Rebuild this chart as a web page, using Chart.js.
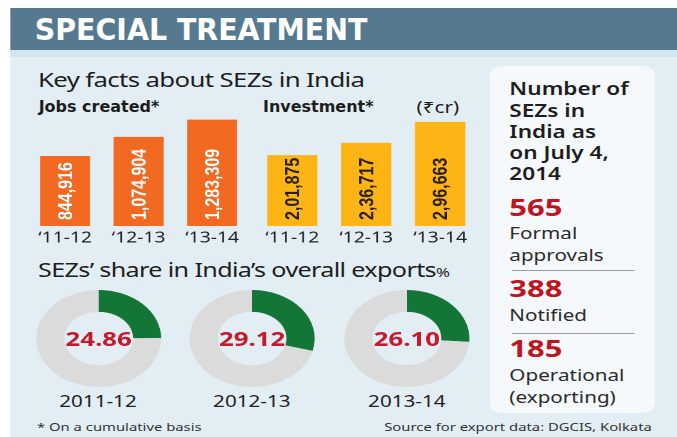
<!DOCTYPE html>
<html lang="en">
<head>
<meta charset="UTF-8" />
<title>Special Treatment - SEZs in India</title>
<script src="https://cdn.jsdelivr.net/npm/chart.js"></script>
<style>
    html, body { margin: 0; padding: 0; background: #fff; }
    body { width: 677px; height: 437px; overflow: hidden; }
    /* the original graphic is stretched sideways, so the whole board is drawn narrow and scaled */
    #wrap {
        position: absolute; left: 0; top: 0;
        width: 525px; height: 437px;
        transform: scaleX(1.2895);
        transform-origin: 0 0;
        font-family: "Noto Sans", "Open Sans", sans-serif;
        color: #1d1d1d;
    }
    .abs { position: absolute; white-space: nowrap; }
    #banner { left: 7.8px; top: 8px; width: 518px; height: 42px; background: #557a8f; }
    #strip { left: 7.8px; top: 50px; width: 518px; height: 7px; background: #d3e5ee; }
    #board { left: 7.8px; top: 57px; width: 518px; height: 380px; background: #e3eef4; }
    #title {
        left: 27px; top: 9px; font-size: 31px; line-height: 40px; font-weight: bold;
        color: #fff; font-family: "Liberation Sans Narrow", "DejaVu Sans Condensed", sans-serif;
        transform: scaleX(0.79); transform-origin: 0 0;
    }
    .head { font-size: 20px; line-height: 24px; letter-spacing: -0.5px; }
    .sub { font-size: 16px; line-height: 20px; }
    .narrow {
        font-family: "Liberation Sans Narrow", "DejaVu Sans Condensed", sans-serif; font-weight: bold;
        transform: scaleX(0.86); transform-origin: 0 0;
    }
    #panel { left: 380px; top: 66px; width: 128px; height: 347px; background: #f5f9fb; border-radius: 9px; }
    #panel .q { position: absolute; left: 15px; font-weight: 600; font-size: 17.5px; line-height: 21px; color: #1d1d1d; }
    #panel .num { position: absolute; left: 15px; font-weight: bold; font-size: 24px; line-height: 26px; color: #c0141f; }
    #panel .txt { position: absolute; left: 15px; font-size: 16px; line-height: 22px; color: #2b2b2b; }
    #panel .rule { position: absolute; left: 17px; width: 95px; height: 0; border-top: 1px solid #9a9a9a; }
    .year { font-size: 16px; line-height: 20px; color: #222; width: 90px; text-align: center; }
    .foot { font-size: 11.5px; line-height: 14px; color: #333; }
    canvas { position: absolute; }
</style>
</head>
<body>
<div id="wrap">
    <div id="banner" class="abs"></div>
    <div id="strip" class="abs"></div>
    <div id="board" class="abs"></div>
    <div id="title" class="abs">SPECIAL TREATMENT</div>

    <div class="abs head" style="left:29.5px; top:68px;">Key facts about SEZs in India</div>
    <div class="abs sub narrow" style="left:29.5px; top:97px;">Jobs created*</div>
    <div class="abs sub narrow" style="left:204px; top:97px;">Investment*</div>
    <div class="abs sub" style="left:323px; top:97px;">(₹cr)</div>

    <canvas id="jobsChart" width="171" height="150" style="left:21.9px; top:100px; width:171px; height:150px;"></canvas>
    <canvas id="investChart" width="172" height="150" style="left:197.7px; top:100px; width:172px; height:150px;"></canvas>

    <div class="abs head" style="left:29.5px; top:258px; font-size:19.5px;">SEZs’ share in India’s overall exports<span style="font-size:13px; letter-spacing:0;">%</span></div>

    <canvas id="share0" width="97" height="97" style="left:27.5px; top:289.5px; width:97px; height:97px;"></canvas>
    <canvas id="share1" width="97" height="97" style="left:146.8px; top:289.5px; width:97px; height:97px;"></canvas>
    <canvas id="share2" width="97" height="97" style="left:267px; top:289.5px; width:97px; height:97px;"></canvas>
    <div id="yearLabels"></div>

    <div id="panel" class="abs">
        <div class="q" style="top:12px;">Number of</div>
        <div class="q" style="top:34px;">SEZs in</div>
        <div class="q" style="top:55px;">India as</div>
        <div class="q" style="top:76px;">on July 4,</div>
        <div class="q" style="top:97px;">2014</div>
        <div class="num" style="top:128px;">565</div>
        <div class="txt" style="top:156px;">Formal</div>
        <div class="txt" style="top:178px;">approvals</div>
        <div class="rule" style="top:204px;"></div>
        <div class="num" style="top:209px;">388</div>
        <div class="txt" style="top:238px;">Notified</div>
        <div class="rule" style="top:267px;"></div>
        <div class="num" style="top:269px;">185</div>
        <div class="txt" style="top:298px;">Operational</div>
        <div class="txt" style="top:320px;">(exporting)</div>
    </div>

    <div class="abs foot" style="left:28.7px; top:420px;">* On a cumulative basis</div>
    <div class="abs foot" style="right:19.5px; top:420px;">Source for export data: DGCIS, Kolkata</div>
</div>

<script>
    const fiscalYears = ["‘11-12", "‘12-13", "‘13-14"];
    const jobsCreated = [844916, 1074904, 1283309];
    const investmentCr = [201875, 236717, 296663];

    const shareYears = ["2011-12", "2012-13", "2013-14"];
    const exportShare = [24.86, 29.12, 26.10];

    const sezCounts = [565, 388, 185];

    // Indian digit grouping, e.g. 2,01,875
    function formatIndian(n) {
        const s = String(n);
        if (s.length <= 3) return s;
        let head = s.slice(0, -3);
        const tail = s.slice(-3);
        head = head.replace(/\B(?=(\d{2})+(?!\d))/g, ",");
        return head + "," + tail;
    }

    function formatWestern(n) {
        return String(n).replace(/\B(?=(\d{3})+(?!\d))/g, ",");
    }

    // vertical value text inside each bar, reading bottom to top
    function makeBarLabels(fmt, color) {
        return {
            id: "barLabels",
            afterDatasetsDraw(chart) {
                const ctx = chart.ctx;
                const values = chart.data.datasets[0].data;
                chart.getDatasetMeta(0).data.forEach((bar, i) => {
                    ctx.save();
                    ctx.translate(bar.x, bar.base - 6);
                    ctx.rotate(-Math.PI / 2);
                    ctx.font = 'bold 16px "Liberation Sans", "DejaVu Sans", sans-serif';
                    ctx.fillStyle = color;
                    ctx.textAlign = "left";
                    ctx.textBaseline = "middle";
                    ctx.fillText(fmt(values[i]), 0, 1);
                    ctx.restore();
                });
            }
        };
    }

    function barChart(id, values, max, color, labelFmt, labelColor) {
        return new Chart(document.getElementById(id), {
            type: "bar",
            data: {
                labels: fiscalYears,
                datasets: [{
                    data: values,
                    backgroundColor: color,
                    borderWidth: 0,
                    categoryPercentage: 1,
                    barPercentage: 0.68
                }]
            },
            options: {
                responsive: false,
                animation: false,
                devicePixelRatio: 2,
                layout: { padding: 0 },
                plugins: { legend: { display: false }, tooltip: { enabled: false } },
                scales: {
                    x: {
                        grid: { display: false, drawTicks: false },
                        border: { display: false },
                        ticks: {
                            color: "#222",
                            padding: 3,
                            font: { family: '"Noto Sans", sans-serif', size: 15 }
                        }
                    },
                    y: { display: false, min: 0, max: max }
                }
            },
            plugins: [makeBarLabels(labelFmt, labelColor)]
        });
    }

    barChart("jobsChart", jobsCreated, 1520000, "#f26a21", formatWestern, "#ffffff");
    barChart("investChart", investmentCr, 359000, "#fdb515", formatIndian, "#2a1f0a");

    // share doughnuts
    const centerText = {
        id: "centerText",
        afterDraw(chart) {
            const ctx = chart.ctx;
            const v = chart.data.datasets[0].data[0];
            const a = chart.chartArea;
            ctx.save();
            ctx.font = 'bold 20px "Noto Sans", sans-serif';
            ctx.fillStyle = "#c41a2b";
            ctx.textAlign = "center";
            ctx.textBaseline = "middle";
            ctx.fillText(v.toFixed(2), (a.left + a.right) / 2, (a.top + a.bottom) / 2 + 2);
            ctx.restore();
        }
    };

    const yearBox = document.getElementById("yearLabels");
    const donutCentres = [76, 195.3, 315.5];

    exportShare.forEach((v, i) => {
        new Chart(document.getElementById("share" + i), {
            type: "doughnut",
            data: {
                labels: ["SEZs", "Rest"],
                datasets: [{
                    data: [v, 100 - v],
                    backgroundColor: ["#137637", "#dbdbdb"],
                    borderWidth: 0
                }]
            },
            options: {
                responsive: false,
                animation: false,
                devicePixelRatio: 2,
                cutout: "55%",
                rotation: 0,
                layout: { padding: 0 },
                plugins: { legend: { display: false }, tooltip: { enabled: false } }
            },
            plugins: [centerText]
        });

        const lab = document.createElement("div");
        lab.className = "abs year";
        lab.style.left = (donutCentres[i] - 45) + "px";
        lab.style.top = "391px";
        lab.textContent = shareYears[i];
        yearBox.appendChild(lab);
    });
</script>
</body>
</html>
